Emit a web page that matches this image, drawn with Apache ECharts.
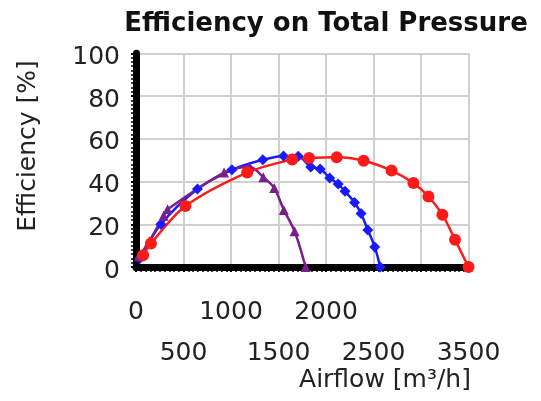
<!DOCTYPE html>
<html>
<head>
<meta charset="utf-8">
<script src="https://cdn.jsdelivr.net/npm/echarts@6/dist/echarts.min.js"></script>
<style>
html,body{margin:0;padding:0;background:#fff;}
#chart{width:541px;height:401px;}
</style>
</head>
<body>
<div id="chart"></div>
<script>
// ---- Data ----
const redAirflow = [75, 157, 520, 1170, 1644, 1822, 2113, 2396, 2690, 2920, 3078, 3225, 3358, 3500];
const redEff     = [5.5, 11, 28.5, 44.2, 50.3, 51, 51.3, 49.7, 45.1, 39.3, 33, 24.5, 12.8, 0];

const blueAirflow = [40, 262, 647, 1010, 1335, 1553, 1708, 1840, 1938, 2039, 2128, 2200, 2300, 2369, 2440, 2513, 2571];
const blueEff     = [4, 20, 36.5, 45.5, 50.2, 52, 51.8, 46.8, 45.9, 41.7, 38.8, 35.4, 30.2, 25, 17.3, 9.4, 0];

const purpleAirflow = [30, 140, 290, 333, 927, 1195, 1340, 1455, 1556, 1670, 1785];
const purpleEff     = [5, 12, 24, 27, 44.2, 47, 42, 37, 26.7, 16.7, 0];

const xTickValues = [0, 500, 1000, 1500, 2000, 2500, 3000, 3500];
const yTickValues = [0, 20, 40, 60, 80, 100];

const titleText = 'Efficiency on Total Pressure';
const xAxisTitle = 'Airflow [m\u00B3/h]';
const yAxisTitle = 'Efficiency [%]';

function zip(xs, ys) { return xs.map((x, i) => [x, ys[i]]); }

const FONT = 'DejaVu Sans';
const chart = echarts.init(document.getElementById('chart'));

chart.setOption({
  animation: false,
  title: [
    {
      text: titleText,
      left: 321, top: 6, textAlign: 'center',
      textStyle: {fontFamily: FONT, fontWeight: 'bold', fontSize: 26, color: '#111'}
    },
    {
      text: xAxisTitle,
      left: 380, top: 363, textAlign: 'center',
      textStyle: {fontFamily: FONT, fontWeight: 'normal', fontSize: 25, color: '#222'}
    }
  ],
  graphic: [
    {
      type: 'text', x: 28, y: 146, rotation: Math.PI / 2,
      style: {text: yAxisTitle, fontFamily: FONT, fontSize: 25, fill: '#222',
              align: 'center', verticalAlign: 'middle'}
    }
  ],
  grid: {left: 136, right: 72.5, top: 53.3, bottom: 134},
  xAxis: {
    type: 'value',
    min: xTickValues[0],
    max: xTickValues[xTickValues.length - 1],
    interval: xTickValues[1] - xTickValues[0],
    axisLine: {show: true, lineStyle: {color: '#000', width: 7}},
    axisTick: {show: true, length: 5, lineStyle: {color: '#000', width: 2}},
    minorTick: {show: true, splitNumber: 10, length: 5, lineStyle: {color: '#000', width: 1.5}},
    splitLine: {show: true, lineStyle: {color: '#d0d0d0', width: 2}},
    axisLabel: {
      fontFamily: FONT, fontSize: 25, color: '#222', margin: 25, lineHeight: 41,
      showMaxLabel: true,
      formatter: function (v) { return (v % 1000 === 0) ? String(v) : '\n' + v; }
    }
  },
  yAxis: {
    type: 'value',
    min: yTickValues[0],
    max: yTickValues[yTickValues.length - 1],
    interval: yTickValues[1] - yTickValues[0],
    axisLine: {show: true, lineStyle: {color: '#000', width: 7}},
    axisTick: {show: true, length: 5, lineStyle: {color: '#000', width: 2}},
    minorTick: {show: true, splitNumber: 10, length: 5, lineStyle: {color: '#000', width: 1.5}},
    splitLine: {show: true, lineStyle: {color: '#d0d0d0', width: 2}},
    axisLabel: {fontFamily: FONT, fontSize: 25, color: '#222', margin: 16,
      formatter: function (v) { return '{a|' + v + '}'; },
      rich: {a: {fontFamily: FONT, fontSize: 25, color: '#222', padding: [8, 0, 0, 0]}}
    }
  },
  series: [
    {
      name: 'Blue', type: 'line', smooth: 0.3,
      data: zip(blueAirflow, blueEff),
      symbol: 'diamond', symbolSize: 11, showSymbol: true,
      lineStyle: {color: '#1a1aff', width: 2.5},
      itemStyle: {color: '#1a1aff'}
    },
    {
      name: 'Purple', type: 'line', smooth: 0.3,
      data: zip(purpleAirflow, purpleEff),
      symbol: 'triangle', symbolSize: 10, showSymbol: true,
      lineStyle: {color: '#7a1f8c', width: 2.5},
      itemStyle: {color: '#7a1f8c'}
    },
    {
      name: 'Red', type: 'line', smooth: 0.3,
      data: zip(redAirflow, redEff),
      symbol: 'circle', symbolSize: 12, showSymbol: true,
      lineStyle: {color: '#ff1a1a', width: 2.5},
      itemStyle: {color: '#ff1a1a'}
    }
  ]
});
</script>
</body>
</html>
